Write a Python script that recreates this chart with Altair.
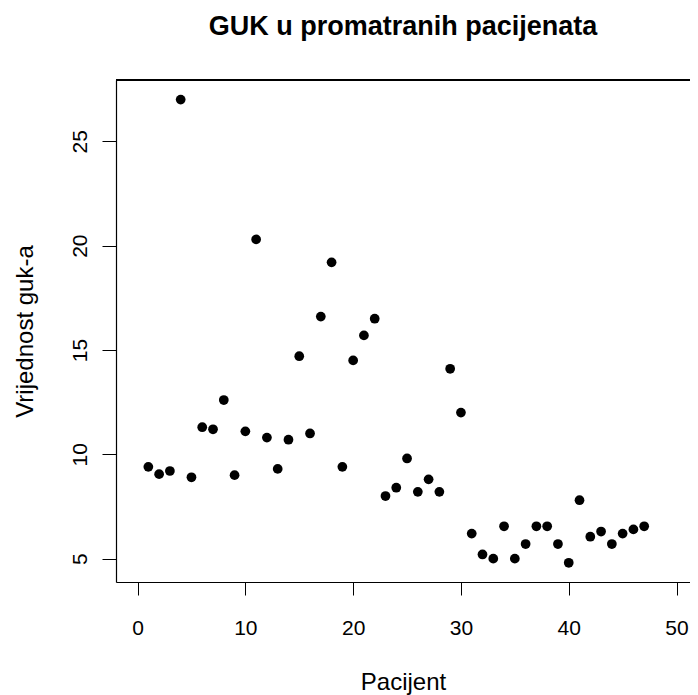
import altair as alt
import pandas as pd

pacijent = list(range(1, 48))
guk = [9.4, 9.05, 9.2, 27.0, 8.9, 11.3, 11.2, 12.6, 9.0, 11.1,
       20.3, 10.8, 9.3, 10.7, 14.7, 11.0, 16.6, 19.2, 9.4, 14.5,
       15.7, 16.5, 8.0, 8.4, 9.8, 8.2, 8.8, 8.2, 14.1, 12.0,
       6.2, 5.2, 5.0, 6.55, 5.0, 5.7, 6.55, 6.55, 5.7, 4.8,
       7.8, 6.05, 6.3, 5.7, 6.2, 6.4, 6.55]
x_ticks = [0, 10, 20, 30, 40, 50]
y_ticks = [5, 10, 15, 20, 25]

df = pd.DataFrame({"Pacijent": pacijent, "GUK": guk})
FONT = "Liberation Sans"
W, H = 574, 502

points = alt.Chart(df).mark_circle(size=95, color="black", opacity=1).encode(
    x=alt.X("Pacijent:Q",
            scale=alt.Scale(domain=[-2, 51.25], nice=False, zero=False),
            axis=alt.Axis(values=x_ticks, title="Pacijent", grid=False,
                          domain=True, domainColor="black", domainWidth=1.2,
                          tickColor="black", tickSize=13, tickWidth=1,
                          labelFont=FONT, labelFontSize=21, labelColor="black",
                          labelBaseline="alphabetic", labelPadding=39,
                          labelFlush=False, labelOverlap=False,
                          titleFont=FONT, titleFontSize=24, titleFontWeight="normal",
                          titleColor="black", titleBaseline="alphabetic",
                          titleY=107, titleAnchor="middle")),
    y=alt.Y("GUK:Q",
            scale=alt.Scale(domain=[3.88, 27.94], nice=False, zero=False),
            axis=alt.Axis(values=y_ticks, title="Vrijednost guk-a", grid=False,
                          domain=True, domainColor="black", domainWidth=1.2,
                          tickColor="black", tickSize=14, tickWidth=1,
                          labelFont=FONT, labelFontSize=21, labelColor="black",
                          labelAngle=270, labelAlign="center", labelBaseline="alphabetic",
                          labelPadding=16, labelFlush=False, labelOverlap=False,
                          titleFont=FONT, titleFontSize=24, titleFontWeight="normal",
                          titleColor="black", titleAngle=270, titleAlign="center",
                          titleBaseline="alphabetic", titleX=-84, titleY=251)),
)

top_line = alt.Chart(df).mark_rule(color="black", strokeWidth=1.2).encode(
    x=alt.value(0), x2=alt.value(W), y=alt.value(0)
)

chart = alt.layer(points, top_line).properties(
    width=W,
    height=H,
    title=alt.TitleParams(text="GUK u promatranih pacijenata", font=FONT, fontSize=27,
                          fontWeight="bold", color="black", anchor="middle",
                          baseline="alphabetic", offset=17),
    autosize=alt.AutoSizeParams(type="none"),
    padding={"left": 108, "top": 72, "right": 0, "bottom": 113},
).configure_view(strokeWidth=0).configure(background="white")

chart.save("out.html", embed_options={"renderer": "svg", "actions": False})
